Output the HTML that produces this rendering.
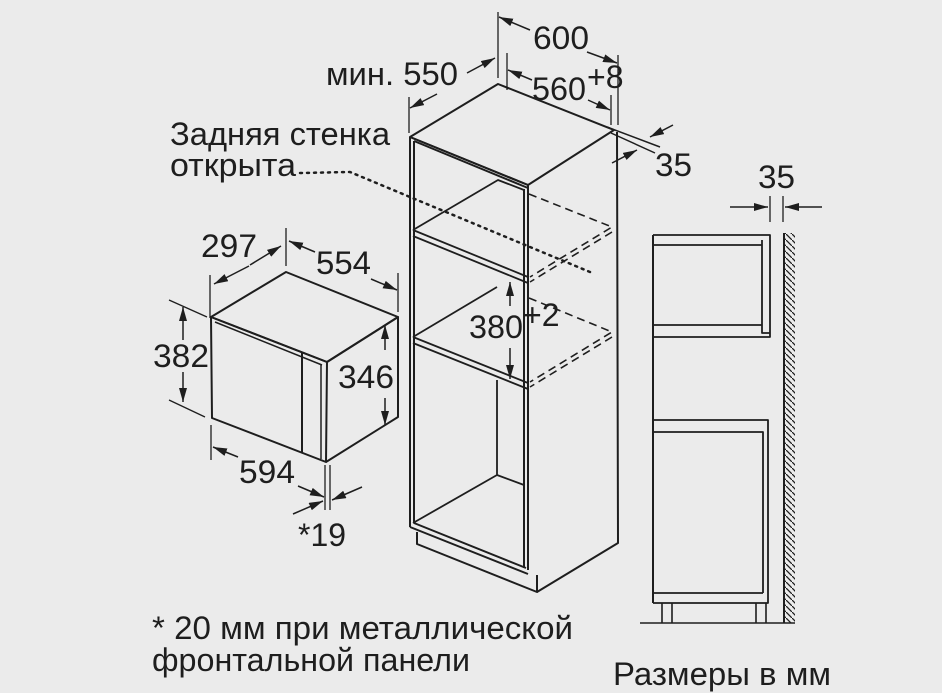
<!DOCTYPE html>
<html><head><meta charset="utf-8"><style>
html,body{margin:0;padding:0;background:#ebebeb;}
svg{display:block}
text{font-family:"Liberation Sans",Arial,sans-serif;fill:#1e1e1e;font-size:32px}
</style></head><body>
<svg width="942" height="693" viewBox="0 0 942 693" xmlns="http://www.w3.org/2000/svg">
<defs>
<marker id="ab" viewBox="0 0 14 8" refX="14" refY="4" markerWidth="14" markerHeight="8" markerUnits="userSpaceOnUse" orient="auto">
<path d="M0,0 L14,4 L0,8 z" fill="#1e1e1e"/></marker>
<pattern id="h" width="6" height="6" patternUnits="userSpaceOnUse">
<path d="M0,0 L6,6" stroke="#1e1e1e" stroke-width="1.3"/></pattern>
</defs>
<rect width="942" height="693" fill="#ebebeb"/>
<g stroke="#1e1e1e" stroke-width="2" fill="none" stroke-linejoin="round">
<!-- Microwave -->
<path d="M211,317 L286,272 L398,317 L327,362 Z"/>
<path d="M211,317 L327,362 L326,462 L212,418 Z"/>
<path d="M327,362 L398,317 L398,417 L326,462"/>
<path d="M215,322 L322,365" stroke-width="1.5"/>
<path d="M302,352 L302,452"/>
<path d="M321,365 L321,459" stroke-width="1.5"/>
<!-- microwave dims -->
<path d="M210,275 L210,318 M286,228 L286,266 M398,273 L398,312" stroke-width="1.3"/>
<path d="M249,266 L214,284" marker-end="url(#ab)" stroke-width="1.5"/>
<path d="M250,265 L281,246" marker-end="url(#ab)" stroke-width="1.5"/>
<path d="M315,252 L289,241" marker-end="url(#ab)" stroke-width="1.5"/>
<path d="M371,279 L397,290" marker-end="url(#ab)" stroke-width="1.5"/>
<path d="M169,300 L207,317 M169,400 L205,417" stroke-width="1.3"/>
<path d="M183,340 L183,307" marker-end="url(#ab)" stroke-width="1.5"/>
<path d="M183,372 L183,402" marker-end="url(#ab)" stroke-width="1.5"/>
<path d="M385,350 L385,325" marker-end="url(#ab)" stroke-width="1.5"/>
<path d="M385,398 L385,425" marker-end="url(#ab)" stroke-width="1.5"/>
<path d="M211,425 L211,460 M325,465 L325,510 M330,465 L330,510" stroke-width="1.3"/>
<path d="M238,457 L213,447" marker-end="url(#ab)" stroke-width="1.5"/>
<path d="M298,486 L324,497" marker-end="url(#ab)" stroke-width="1.5"/>
<path d="M293,514 L323,501" marker-end="url(#ab)" stroke-width="1.5"/>
<path d="M362,487 L332,500" marker-end="url(#ab)" stroke-width="1.5"/>
<!-- Cabinet -->
<path d="M410,137 L498,84 L614,130 L528,185 Z"/>
<path d="M410,137 L410,527 M414,141 L414,523 M410,137 L528,185 M414,141 L528,188"/>
<path d="M528,185 L528,570 M524,189 L524,568"/>
<path d="M617,132 L618,543 L537,592"/>
<path d="M417,532 L417,544 L537,592 L537,575"/>
<path d="M410,527 L528,574 M414,523 L526,568"/>
<path d="M413,230 L528,277 M413,236 L528,283 M413,230 L498,180 L524,190" stroke-width="1.8"/>
<path d="M413,337 L528,383 M413,343 L528,389 M413,337 L497,287" stroke-width="1.8"/>
<path d="M413,523 L497,475 L524,485 M497,380 L497,475" stroke-width="1.8"/>
<path d="M529,194 L612,227 L530,277 M612,232 L530,282 M529,298 L612,332 L530,382 M612,337 L530,387" stroke-dasharray="8,5" stroke-width="1.6"/>
<path d="M300,173 L350,172 L590,272" stroke-dasharray="2,5" stroke-width="2.5" stroke-linecap="round"/>
<path d="M510,306 L510,282" marker-end="url(#ab)" stroke-width="1.5"/>
<path d="M510,348 L510,379" marker-end="url(#ab)" stroke-width="1.5"/>
<!-- cabinet dims -->
<path d="M498,12 L498,78 M618,55 L618,125 M507,53 L507,90 M611,95 L611,125 M409,97 L409,133" stroke-width="1.3"/>
<path d="M530,30 L499,17" marker-end="url(#ab)" stroke-width="1.5"/>
<path d="M587,52 L617,63" marker-end="url(#ab)" stroke-width="1.5"/>
<path d="M532,80 L508,70" marker-end="url(#ab)" stroke-width="1.5"/>
<path d="M588,100 L610,110" marker-end="url(#ab)" stroke-width="1.5"/>
<path d="M467,73 L495,58" marker-end="url(#ab)" stroke-width="1.5"/>
<path d="M437,94 L410,108" marker-end="url(#ab)" stroke-width="1.5"/>
<path d="M607,127 L660,147 M611,133 L655,153" stroke-width="1.5"/>
<path d="M673,125 L650,137" marker-end="url(#ab)" stroke-width="1.5"/>
<path d="M612,163 L637,150" marker-end="url(#ab)" stroke-width="1.5"/>
<!-- side view -->
<path d="M653,235 L770,235 L770,337 L653,337 M653,245 L762,245 M653,325 L762,325 M762,240 L762,333 L770,333" stroke-width="1.8"/>
<path d="M653,235 L653,603"/>
<path d="M653,420 L768,420 L768,603 L653,603 M653,432 L763,432 L763,593 M653,593 L763,593" stroke-width="1.8"/>
<path d="M662,603 L662,623 M672,603 L672,623 M756,603 L756,623 M766,603 L766,623" stroke-width="1.6"/>
<path d="M640,623 L795,623" stroke-width="1.6"/>
<path d="M784,233 L784,623"/>
<path d="M770,196 L770,222 M783,196 L783,222" stroke-width="1.3"/>
<path d="M730,207 L768,207" marker-end="url(#ab)" stroke-width="1.5"/>
<path d="M822,207 L785,207" marker-end="url(#ab)" stroke-width="1.5"/>
</g>
<rect x="785" y="233" width="10" height="390" fill="url(#h)"/>
<!-- text -->
<text x="170" y="145" font-size="30" textLength="220" lengthAdjust="spacingAndGlyphs">Задняя стенка</text>
<text x="170" y="176" font-size="30" textLength="126" lengthAdjust="spacingAndGlyphs">открыта</text>
<text x="326" y="85" textLength="132" lengthAdjust="spacingAndGlyphs">мин. 550</text>
<text x="533" y="49" textLength="56" lengthAdjust="spacingAndGlyphs">600</text>
<text x="532" y="100" textLength="54" lengthAdjust="spacingAndGlyphs">560</text>
<text x="587" y="88" font-size="23">+8</text>
<text x="655" y="176" textLength="37" lengthAdjust="spacingAndGlyphs">35</text>
<text x="758" y="188" textLength="37" lengthAdjust="spacingAndGlyphs">35</text>
<text x="201" y="257" textLength="56" lengthAdjust="spacingAndGlyphs">297</text>
<text x="316" y="274" textLength="55" lengthAdjust="spacingAndGlyphs">554</text>
<text x="153" y="367" textLength="56" lengthAdjust="spacingAndGlyphs">382</text>
<text x="338" y="388" textLength="56" lengthAdjust="spacingAndGlyphs">346</text>
<text x="239" y="483" textLength="56" lengthAdjust="spacingAndGlyphs">594</text>
<text x="298" y="546" textLength="48" lengthAdjust="spacingAndGlyphs">*19</text>
<text x="469" y="338" textLength="54" lengthAdjust="spacingAndGlyphs">380</text>
<text x="523" y="326" font-size="23">+2</text>
<text x="152" y="639" font-size="31" textLength="421" lengthAdjust="spacingAndGlyphs">* 20 мм при металлической</text>
<text x="152" y="671" font-size="31" textLength="318" lengthAdjust="spacingAndGlyphs">фронтальной панели</text>
<text x="613" y="685" font-size="31" textLength="218" lengthAdjust="spacingAndGlyphs">Размеры в мм</text>
</svg>
</body></html>
